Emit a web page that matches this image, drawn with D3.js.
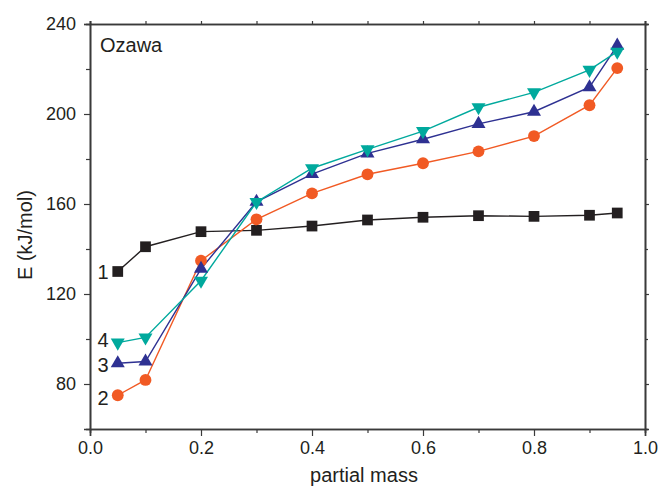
<!DOCTYPE html>
<html>
<head>
<meta charset="utf-8">
<script src="https://cdn.jsdelivr.net/npm/d3@7"></script>
<style>
  body { margin: 0; background: #fff; }
  text { font-family: "Liberation Sans", Arial, sans-serif; fill: #231f20; }
</style>
</head>
<body>
<svg width="661" height="487"></svg>
<script>
// data
const massX = [0.05, 0.1, 0.2, 0.3, 0.4, 0.5, 0.6, 0.7, 0.8, 0.9, 0.95];
const series1 = [130, 141, 147.7, 148.3, 150.2, 152.9, 154.1, 154.8, 154.5, 155, 156];
const series2 = [75, 81.8, 134.8, 153.2, 164.7, 173.2, 178.1, 183.4, 190.2, 203.9, 220.4];
const series3 = [89.2, 90, 131.2, 161, 173.3, 182.5, 188.8, 195.6, 201, 211.9, 230.4];
const series4 = [98.4, 100.7, 125.9, 160.9, 175.9, 184.3, 192.4, 203, 209.6, 219.6, 227.7];
const xTicks = [0, 0.2, 0.4, 0.6, 0.8, 1.0];
const yTicks = [80, 120, 160, 200, 240];

const margin = { top: 24, right: 16, bottom: 58, left: 90 };
const width = 661, height = 487;
const svg = d3.select('svg');

const x = d3.scaleLinear().domain([0, 1]).range([margin.left, width - margin.right]);
const y = d3.scaleLinear().domain([60, 240]).range([height - margin.bottom, margin.top]);

const axisColor = '#3a3a3a';

function styleAxis(g) {
  g.select('.domain').attr('stroke', axisColor).attr('stroke-width', 1.6);
  g.selectAll('.tick line').attr('stroke', axisColor).attr('stroke-width', 1.2);
  g.selectAll('.tick text').style('font-size', '18px').attr('fill', '#231f20');
}

// minor ticks first
const xMinor = d3.range(0.1, 1, 0.2);
const yMinor = [100, 140, 180, 220];

svg.append('g').attr('transform', `translate(0,${y(60)})`)
  .call(d3.axisBottom(x).tickValues(xMinor).tickSize(4).tickFormat(''))
  .call(styleAxis);
svg.append('g').attr('transform', `translate(0,${y(240)})`)
  .call(d3.axisTop(x).tickValues(xMinor).tickSize(3).tickFormat(''))
  .call(styleAxis);
svg.append('g').attr('transform', `translate(${x(0)},0)`)
  .call(d3.axisLeft(y).tickValues(yMinor).tickSize(4).tickFormat(''))
  .call(styleAxis);
svg.append('g').attr('transform', `translate(${x(1)},0)`)
  .call(d3.axisRight(y).tickValues(yMinor).tickSize(3).tickFormat(''))
  .call(styleAxis);

// major axes
svg.append('g').attr('transform', `translate(0,${y(60)})`)
  .call(d3.axisBottom(x).tickValues(xTicks).tickSize(7).tickPadding(5).tickFormat(d3.format('.1f')))
  .call(styleAxis);
svg.append('g').attr('transform', `translate(0,${y(240)})`)
  .call(d3.axisTop(x).tickValues(xTicks).tickSize(3).tickFormat(''))
  .call(styleAxis);
svg.append('g').attr('transform', `translate(${x(0)},0)`)
  .call(d3.axisLeft(y).tickValues(yTicks).tickSize(6).tickPadding(8))
  .call(styleAxis);
svg.append('g').attr('transform', `translate(${x(1)},0)`)
  .call(d3.axisRight(y).tickValues(yTicks).tickSize(4).tickFormat(''))
  .call(styleAxis);

// axis titles
svg.append('text')
  .attr('x', 364).attr('y', 482)
  .attr('text-anchor', 'middle').style('font-size', '20px')
  .text('partial mass');
svg.append('text')
  .attr('transform', `translate(32,235) rotate(-90)`)
  .attr('text-anchor', 'middle').style('font-size', '20px')
  .text('E (kJ/mol)');

svg.append('text').attr('x', 100).attr('y', 52).style('font-size', '20px').text('Ozawa');

const allSeries = [
  { values: series1, color: '#231f20', symbol: d3.symbolSquare, size: 115, rot: 0, label: '1', ly: 279 },
  { values: series2, color: '#f15a24', symbol: d3.symbolCircle, size: 110, rot: 0, label: '2', ly: 405 },
  { values: series3, color: '#2e3192', symbol: d3.symbolTriangle, size: 85, rot: 0, label: '3', ly: 372 },
  { values: series4, color: '#00a99d', symbol: d3.symbolTriangle, size: 85, rot: 180, label: '4', ly: 347 }
];

const line = d3.line().x(d => x(d[0])).y(d => y(d[1]));

allSeries.forEach(s => {
  const pts = massX.map((m, i) => [m, s.values[i]]);
  svg.append('path')
    .attr('d', line(pts))
    .attr('fill', 'none')
    .attr('stroke', s.color)
    .attr('stroke-width', 1.4);
});

allSeries.forEach(s => {
  const pts = massX.map((m, i) => [m, s.values[i]]);
  svg.selectAll(null)
    .data(pts)
    .enter().append('path')
    .attr('d', d3.symbol().type(s.symbol).size(s.size))
    .attr('transform', d => `translate(${x(d[0])},${y(d[1])}) rotate(${s.rot})`)
    .attr('fill', s.color);
  svg.append('text')
    .attr('x', 103).attr('y', s.ly)
    .attr('text-anchor', 'middle')
    .style('font-size', '20px')
    .text(s.label);
});
</script>
</body>
</html>
